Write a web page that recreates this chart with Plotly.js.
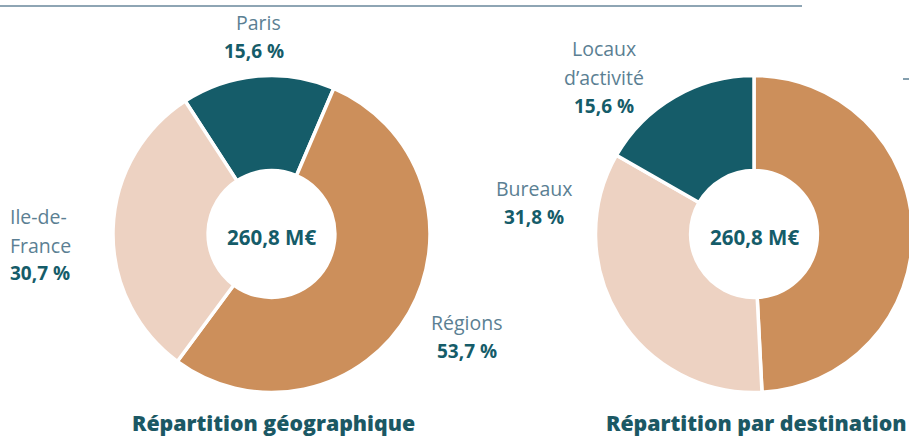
<!DOCTYPE html>
<html>
<head>
<meta charset="utf-8">
<script src="https://cdn.plot.ly/plotly-3.0.1.min.js"></script>
<style>
html, body { margin: 0; padding: 0; overflow: hidden; background: #ffffff; width: 909px; height: 436px; }
#chart { width: 930px; height: 436px; }
</style>
</head>
<body>
<div id="chart"></div>
<script>
// ---- Data ----
var geoLabels = ["Paris", "Régions", "Ile-de-France"];
var geoValues = [15.6, 53.7, 30.7];
var geoPctText = ["15,6 %", "53,7 %", "30,7 %"];

var destLabels = ["Autres", "Bureaux", "Locaux d’activité"];
var destValues = [45.9, 31.8, 15.6];
var destPctText = ["", "31,8 %", "15,6 %"];

var totalText = ["260,8 M€", "260,8 M€"];
var chartTitles = ["Répartition géographique", "Répartition par destination"];

// ---- Styles ----
var W = 930, H = 436;
var colTeal = "#155c69", colOrange = "#cc8f5b", colPink = "#edd2c2";
var colName = "#5b7f93", colPct = "#155c69", colTitle = "#1b5864";
var FONT = "'Open Sans', 'Noto Sans', sans-serif";

function px(x) { return x / W; }
function py(y) { return 1 - y / H; }

var traces = [
  {
    type: "pie",
    labels: geoLabels,
    values: geoValues,
    hole: 0.4,
    sort: false,
    direction: "clockwise",
    rotation: -33,
    marker: { colors: [colTeal, colOrange, colPink], line: { color: "#ffffff", width: 3.5 } },
    textinfo: "none",
    hoverinfo: "none",
    showlegend: false,
    domain: { x: [px(113), px(430)], y: [py(392.5), py(75.5)] }
  },
  {
    type: "pie",
    labels: destLabels,
    values: destValues,
    hole: 0.4,
    sort: false,
    direction: "clockwise",
    rotation: 0,
    marker: { colors: [colOrange, colPink, colTeal], line: { color: "#ffffff", width: 3.5 } },
    textinfo: "none",
    hoverinfo: "none",
    showlegend: false,
    domain: { x: [px(595.5), px(912.5)], y: [py(392.5), py(75.5)] }
  }
];

function ann(text, x, y, opts) {
  opts = opts || {};
  return {
    text: text, xref: "paper", yref: "paper",
    x: px(x), y: py(y),
    xanchor: opts.xanchor || "center", yanchor: "middle",
    showarrow: false,
    font: { family: FONT, size: opts.size || 19.5, color: opts.color || colName, weight: opts.weight || 400 }
  };
}

var annotations = [
  // Paris
  ann(geoLabels[0], 258, 22),
  ann(geoPctText[0], 253.5, 51, { weight: 700, color: colPct, size: 19 }),
  // Ile-de-France
  ann("Ile-de-", 8, 216, { xanchor: "left" }),
  ann("France", 8, 245, { xanchor: "left" }),
  ann(geoPctText[2], 8, 273, { xanchor: "left", weight: 700, color: colPct, size: 19 }),
  // Régions
  ann(geoLabels[1], 466.5, 322),
  ann(geoPctText[1], 466.5, 351, { weight: 700, color: colPct, size: 19 }),
  // Locaux d'activité
  ann("Locaux", 603.5, 48),
  ann("d’activité", 603.5, 77),
  ann(destPctText[2], 603.5, 106, { weight: 700, color: colPct, size: 19 }),
  // Bureaux
  ann(destLabels[1], 533.5, 188),
  ann(destPctText[1], 533.5, 217, { weight: 700, color: colPct, size: 19 }),
  // centre totals
  ann(totalText[0], 271.5, 237, { weight: 700, color: colPct, size: 20.5 }),
  ann(totalText[1], 754, 237, { weight: 700, color: colPct, size: 20.5 }),
  // titles
  ann(chartTitles[0], 273.5, 422, { weight: 800, color: colTitle, size: 21.3 }),
  ann(chartTitles[1], 756.5, 422, { weight: 800, color: colTitle, size: 21.3 })
];

var layout = {
  width: W, height: H,
  margin: { l: 0, r: 0, t: 0, b: 0 },
  paper_bgcolor: "#ffffff",
  plot_bgcolor: "#ffffff",
  showlegend: false,
  annotations: annotations,
  shapes: [
    { type: "line", xref: "paper", yref: "paper", x0: 0, x1: px(802), y0: py(6), y1: py(6),
      line: { color: "#8ea5b4", width: 2 } },
    // fragment of a label cut off at the right edge
    { type: "line", xref: "paper", yref: "paper", x0: px(903), x1: px(910), y0: py(79), y1: py(79),
      line: { color: colName, width: 1.5 } }
  ]
};

Plotly.newPlot("chart", traces, layout, { staticPlot: true, displayModeBar: false });
</script>
</body>
</html>
